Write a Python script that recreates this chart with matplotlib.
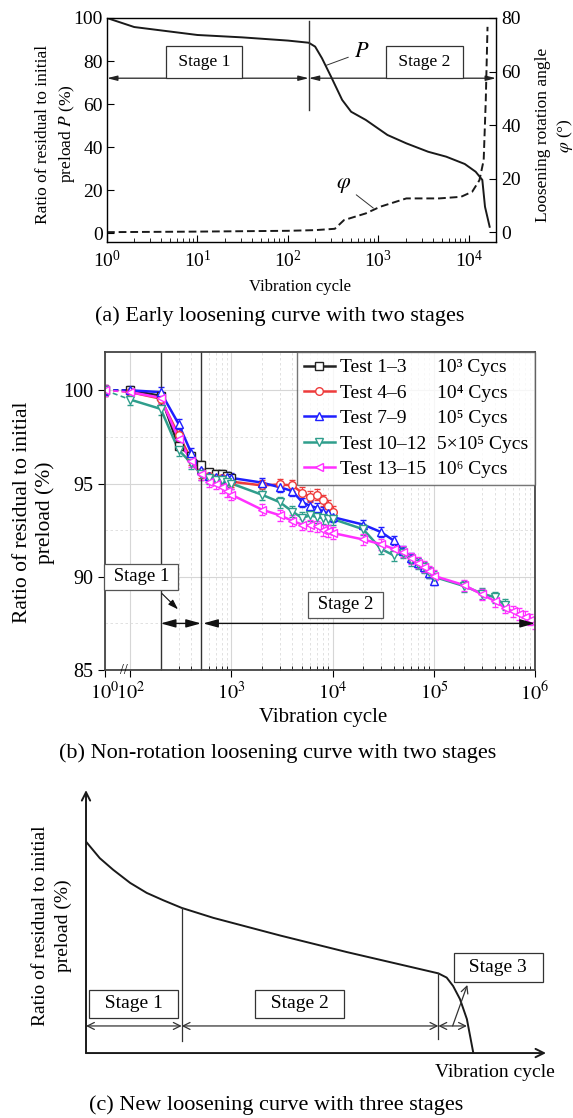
import numpy as np
import matplotlib
matplotlib.use('Agg')
import matplotlib.pyplot as plt
from matplotlib.lines import Line2D
from matplotlib.ticker import FixedLocator, NullFormatter, MultipleLocator

plt.rcParams['font.family'] = ['Liberation Serif', 'DejaVu Serif']
plt.rcParams['mathtext.fontset'] = 'stix'

# ---------------- panel (a): early loosening curve ----------------
p_cyc = [1, 2, 10, 31, 100, 170, 200, 238, 300, 398, 500, 726, 1260, 2040, 3550, 5630, 9020, 11900, 14100, 15100, 17000]
p_val = [100, 95.8, 92.1, 91.0, 89.5, 88.5, 86.7, 81.3, 72.7, 61.9, 56.4, 52.6, 45.6, 41.7, 37.8, 35.5, 32.1, 28.5, 24.7, 12.2, 2.9]
phi_cyc = [1, 10, 100, 200, 330, 417, 726, 1050, 2040, 4700, 8200, 10900, 13100, 14600, 15400, 16100]
phi_val = [0, 0.2, 0.5, 0.75, 1.25, 4.5, 7.0, 9.5, 12.6, 12.6, 13.2, 15.1, 19.4, 26.9, 49.3, 76.7]
a_split = 170
a_arrow_y = 72

# ---------------- panel (b): non-rotation loosening curves ----------------
x_1e3 = [1, 100, 200, 300, 400, 500, 600, 700, 800, 900, 1000]
x_1e4 = x_1e3 + [2000, 3000, 4000, 5000, 6000, 7000, 8000, 9000, 10000]
x_1e5 = x_1e4 + [20000, 30000, 40000, 50000, 60000, 70000, 80000, 90000, 100000]
x_5e5 = x_1e5 + [200000, 300000, 400000, 500000]
x_1e6 = x_1e5 + [200000, 300000, 400000, 500000, 600000, 700000, 800000, 900000, 1000000]

y_t1 = [100.0, 100.0, 99.7, 97.0, 96.5, 96.0, 95.6, 95.5, 95.5, 95.4, 95.3]
y_t4 = [100.0, 99.9, 99.55, 97.6, 96.3, 95.6, 95.4, 95.3, 95.3, 95.2, 95.1,
        94.9, 94.95, 94.9, 94.5, 94.3, 94.4, 94.1, 93.8, 93.5]
y_t7 = [100.0, 100.0, 99.9, 98.2, 96.65, 95.7, 95.4, 95.35, 95.3, 95.35, 95.3,
        95.05, 94.8, 94.6, 94.0, 93.8, 93.7, 93.5, 93.4, 93.2,
        92.8, 92.4, 91.95, 91.4, 91.0, 90.75, 90.5, 90.2, 89.8]
y_t10 = [100.0, 99.5, 99.0, 96.8, 96.1, 95.5, 95.3, 95.2, 95.2, 95.1, 95.0,
         94.4, 94.0, 93.5, 93.15, 93.3, 93.2, 93.15, 93.1, 93.1,
         92.55, 91.5, 91.15, 91.3, 90.9, 90.7, 90.5, 90.25, 90.0,
         89.5, 89.1, 88.9, 88.5]
y_t13 = [100.0, 99.9, 99.6, 97.4, 96.2, 95.5, 95.1, 95.0, 94.8, 94.6, 94.4,
         93.6, 93.3, 93.0, 92.8, 92.75, 92.7, 92.5, 92.45, 92.35,
         92.0, 91.75, 91.5, 91.35, 91.0, 90.75, 90.55, 90.3, 90.05,
         89.55, 89.05, 88.7, 88.35, 88.15, 88.0, 87.85, 87.7, 87.5]
err_b = [0.2, 0.3, 0.25, 0.3, 0.3]

test_names = ['Test 1\u20133', 'Test 4\u20136', 'Test 7\u20139', 'Test 10\u201312', 'Test 13\u201315']
cyc_names = ['10\u00b3 Cycs', '10\u2074 Cycs', '10\u2075 Cycs', '5\u00d710\u2075 Cycs', '10\u2076 Cycs']
colors_b = ['#222222', '#ee3b3b', '#1f1fff', '#2f9e8c', '#ff30ff']
markers_b = ['s', 'o', '^', 'v', '<']
b_stage1 = (200, 500)
b_stage2 = (525, 1000000)
b_arrow_y = 87.5

# ---------------- panel (c): schematic with three stages ----------------
c_x = [0, 3.0, 5.9, 9.6, 13.2, 16.8, 20.8, 27.7, 42.2, 56.7, 71.2, 76.6, 78.4, 79.8, 81.3, 82.8, 84.2]
c_y = [80.4, 74.1, 69.7, 64.7, 60.9, 58.1, 55.2, 51.4, 44.7, 38.4, 32.5, 30.3, 28.7, 25.5, 20.5, 12.9, 0]
c_split1 = 20.8
c_split2 = 76.6
c_end3 = 82.8
c_arrow_y = 10.3

fig = plt.figure(figsize=(5.73, 11.18), dpi=100)

# ===== (a) =====
ax1 = fig.add_axes([0.1867, 0.7835, 0.679, 0.2004])
ax1.plot(p_cyc, p_val, color='#1a1a1a', lw=1.4)
ax1.set_xscale('log')
ax1.set_xlim(1, 2e4)
ax1.set_ylim(-4.2, 100)
ax1.set_yticks([0, 20, 40, 60, 80, 100])
ax1.tick_params(axis='both', which='both', direction='in', labelsize=14, top=False)
ax1.tick_params(axis='x', which='major', length=5, pad=6)
ax1.tick_params(axis='x', which='minor', length=3)
ax1.tick_params(axis='y', which='major', length=5, pad=3)
for s in ax1.spines.values():
    s.set_color('#333333')
    s.set_linewidth(1.0)

ax1b = ax1.twinx()
ax1b.plot(phi_cyc, phi_val, color='#1a1a1a', lw=1.4, ls=(0, (4, 2)))
ax1b.set_ylim(-3.7, 80)
ax1b.set_yticks([0, 20, 40, 60, 80])
ax1b.tick_params(axis='y', direction='in', labelsize=14, length=5, pad=4)

ax1.plot([a_split, a_split], [57, 98.5], color='#333333', lw=1.0)
hd = dict(arrowstyle='<|-|>,head_length=0.6,head_width=0.15', color='#222222', lw=0.9,
          shrinkA=0, shrinkB=0)
ax1.annotate('', xy=(1, a_arrow_y), xytext=(a_split, a_arrow_y), arrowprops=hd)
ax1.annotate('', xy=(a_split, a_arrow_y), xytext=(2e4, a_arrow_y), arrowprops=hd)
boxa = dict(boxstyle='square,pad=0.45', fc='white', ec='#333333', lw=0.9)
ax1.text(11.9, 79.5, ' Stage 1 ', ha='center', va='center', fontsize=12.5, bbox=boxa)
ax1.text(3240, 79.5, ' Stage 2 ', ha='center', va='center', fontsize=12.5, bbox=boxa)
ax1.annotate('$P$', xy=(266, 78), xytext=(650, 84), fontsize=16, ha='center', va='center',
             arrowprops=dict(arrowstyle='-', color='#333333', lw=0.7, shrinkA=2, shrinkB=0))
ax1.annotate(r'$\varphi$', xy=(880, 11.6), xytext=(414, 22.3), fontsize=16, ha='center', va='center',
             arrowprops=dict(arrowstyle='-', color='#333333', lw=0.7, shrinkA=2, shrinkB=0))

fig.text(0.098, 0.880, 'Ratio of residual to initial\npreload $P$ (%)', rotation=90,
         ha='center', va='center', fontsize=12.5, linespacing=1.45)
fig.text(0.968, 0.879, 'Loosening rotation angle\n' + r'$\varphi$ (°)', rotation=90,
         ha='center', va='center', fontsize=12.5, linespacing=1.3)
fig.text(0.5236, 0.7433, 'Vibration cycle', ha='center', va='center', fontsize=12)
fig.text(0.4887, 0.7174, '(a) Early loosening curve with two stages', ha='center', va='center', fontsize=16)

# ===== (b) =====
def fwd(x):
    lx = np.log10(np.clip(np.asarray(x, dtype=float), 1e-3, None))
    return np.where(lx >= 2, lx, 2 - (2 - lx) * 0.125)

def inv(y):
    y = np.asarray(y, dtype=float)
    return np.where(y >= 2, 10.0 ** y, 10.0 ** (2 - (2 - y) / 0.125))

ax2 = fig.add_axes([0.1832, 0.4007, 0.7505, 0.2844])
ax2.set_xscale('function', functions=(fwd, inv))
ax2.set_xlim(1, 1e6)
ax2.set_ylim(85, 102.05)

series = [(x_1e3, y_t1), (x_1e4, y_t4), (x_1e5, y_t7), (x_5e5, y_t10), (x_1e6, y_t13)]
handles = []
for (xs, ys), c, m, e in zip(series, colors_b, markers_b, err_b):
    ax2.plot(xs[:2], ys[:2], ls=(0, (3, 2)), color=c, lw=1.2)
    ax2.plot(xs[1:], ys[1:], '-', color=c, lw=1.8)
    ax2.errorbar(xs, ys, yerr=e, fmt=m, color=c, mfc='white', ms=5.5, mew=1.0,
                 capsize=2.5, elinewidth=0.8, capthick=0.8)
    handles.append(Line2D([], [], color=c, marker=m, mfc='white', ms=5.5, mew=1.0, lw=1.8))

major_b = [1, 100, 1e3, 1e4, 1e5, 1e6]
ax2.xaxis.set_major_locator(FixedLocator(major_b))
ax2.set_xticklabels(['$10^0$', '$10^2$', '$10^3$', '$10^4$', '$10^5$', '$10^6$'])
ax2.xaxis.set_minor_locator(FixedLocator([m * 10 ** k for k in range(2, 6) for m in range(2, 10)]))
ax2.xaxis.set_minor_formatter(NullFormatter())
ax2.set_yticks([85, 90, 95, 100])
ax2.yaxis.set_minor_locator(MultipleLocator(2.5))
ax2.grid(which='major', color='#d6d6d6', lw=0.8)
ax2.grid(which='minor', color='#dcdcdc', lw=0.6, ls=(0, (3, 3)))
ax2.set_axisbelow(True)
ax2.tick_params(axis='both', which='major', direction='out', labelsize=14.5, length=5)
ax2.tick_params(axis='both', which='minor', direction='in', length=3)
ax2.tick_params(axis='y', which='minor', length=0)
for s in ax2.spines.values():
    s.set_color('#444444')
    s.set_linewidth(1.3)
ax2.text(30, 85, '//', ha='center', va='center', fontsize=10, clip_on=False)

ax2.axvline(b_stage1[0], color='#333333', lw=1.0)
ax2.axvline(b_stage1[1], color='#333333', lw=1.0)
hb = dict(arrowstyle='<|-|>,head_length=0.9,head_width=0.25', color='#111111', lw=1.0,
          shrinkA=0, shrinkB=0)
ax2.annotate('', xy=(b_stage1[0], b_arrow_y), xytext=(b_stage1[1], b_arrow_y), arrowprops=hb)
ax2.annotate('', xy=(b_stage2[0], b_arrow_y), xytext=(b_stage2[1], b_arrow_y), arrowprops=hb,
             annotation_clip=False)
boxb = dict(boxstyle='square,pad=0.25', fc='white', ec='#555555', lw=0.9)
ax2.text(128, 90, ' Stage 1 ', ha='center', va='center', fontsize=13.5, bbox=boxb, zorder=5)
ax2.annotate('', xy=(310, 88.15), xytext=(197, 89.2),
             arrowprops=dict(arrowstyle='-|>,head_length=0.6,head_width=0.2', color='#111111', lw=0.8))
ax2.text(13400, 88.5, ' Stage 2 ', ha='center', va='center', fontsize=13.5, bbox=boxb, zorder=5)

labels_leg = test_names + cyc_names
blank = [Line2D([], [], ls='none') for _ in cyc_names]
leg = ax2.legend(handles + blank, labels_leg, ncol=2, loc='upper right', fontsize=14,
                 frameon=True, fancybox=False, borderaxespad=0, borderpad=0.35,
                 handlelength=1.6, handletextpad=0.25, columnspacing=-1.3,
                 labelspacing=0.4)
leg.get_frame().set_edgecolor('#555555')
leg.get_frame().set_linewidth(1.0)

fig.text(0.059, 0.5416, 'Ratio of residual to initial\npreload (%)', rotation=90,
         ha='center', va='center', fontsize=15.5, linespacing=1.25)
fig.text(0.5637, 0.3578, 'Vibration cycle', ha='center', va='center', fontsize=15)
fig.text(0.485, 0.3265, '(b) Non-rotation loosening curve with two stages', ha='center', va='center', fontsize=16)

# ===== (c) =====
ax3 = fig.add_axes([0.1501, 0.0581, 0.8028, 0.2352])
ax3.set_xlim(0, 100)
ax3.set_ylim(0, 100)
ax3.axis('off')
ax3.plot(c_x, c_y, color='#1a1a1a', lw=1.4)
ha_ax = dict(arrowstyle='->,head_length=0.6,head_width=0.3', color='#1a1a1a', lw=1.4,
             shrinkA=0, shrinkB=0)
ax3.annotate('', xy=(100, 0), xytext=(0, 0), arrowprops=ha_ax, annotation_clip=False)
ax3.annotate('', xy=(0, 100), xytext=(0, 0), arrowprops=ha_ax, annotation_clip=False)
ax3.plot([c_split1, c_split1], [4.5, c_y[c_x.index(c_split1)]], color='#333333', lw=0.9)
ax3.plot([c_split2, c_split2], [5.3, c_y[c_x.index(c_split2)]], color='#333333', lw=0.9)
hc = dict(arrowstyle='<->,head_length=0.5,head_width=0.25', color='#333333', lw=0.9,
          shrinkA=0, shrinkB=0)
ax3.annotate('', xy=(0, c_arrow_y), xytext=(c_split1, c_arrow_y), arrowprops=hc)
ax3.annotate('', xy=(c_split1, c_arrow_y), xytext=(c_split2, c_arrow_y), arrowprops=hc)
ax3.annotate('', xy=(c_split2, c_arrow_y), xytext=(c_end3, c_arrow_y), arrowprops=hc)
ax3.annotate('', xy=(82.9, 25.9), xytext=(79.7, c_arrow_y),
             arrowprops=dict(arrowstyle='->,head_length=0.5,head_width=0.25', color='#333333',
                             lw=0.9, shrinkA=0, shrinkB=0))
boxc = dict(boxstyle='square,pad=0.3', fc='white', ec='#333333', lw=0.9)
ax3.text(10.4, 18.7, '  Stage 1  ', ha='center', va='center', fontsize=14, bbox=boxc)
ax3.text(46.4, 18.7, '  Stage 2  ', ha='center', va='center', fontsize=14, bbox=boxc)
ax3.text(89.6, 32.5, '  Stage 3  ', ha='center', va='center', fontsize=14, bbox=boxc)

fig.text(0.091, 0.1717, 'Ratio of residual to initial\npreload (%)', rotation=90,
         ha='center', va='center', fontsize=14, linespacing=1.4)
fig.text(0.8639, 0.0411, 'Vibration cycle', ha='center', va='center', fontsize=14)
fig.text(0.4817, 0.0116, '(c) New loosening curve with three stages', ha='center', va='center', fontsize=16)

fig.savefig('out.png', dpi=100)
